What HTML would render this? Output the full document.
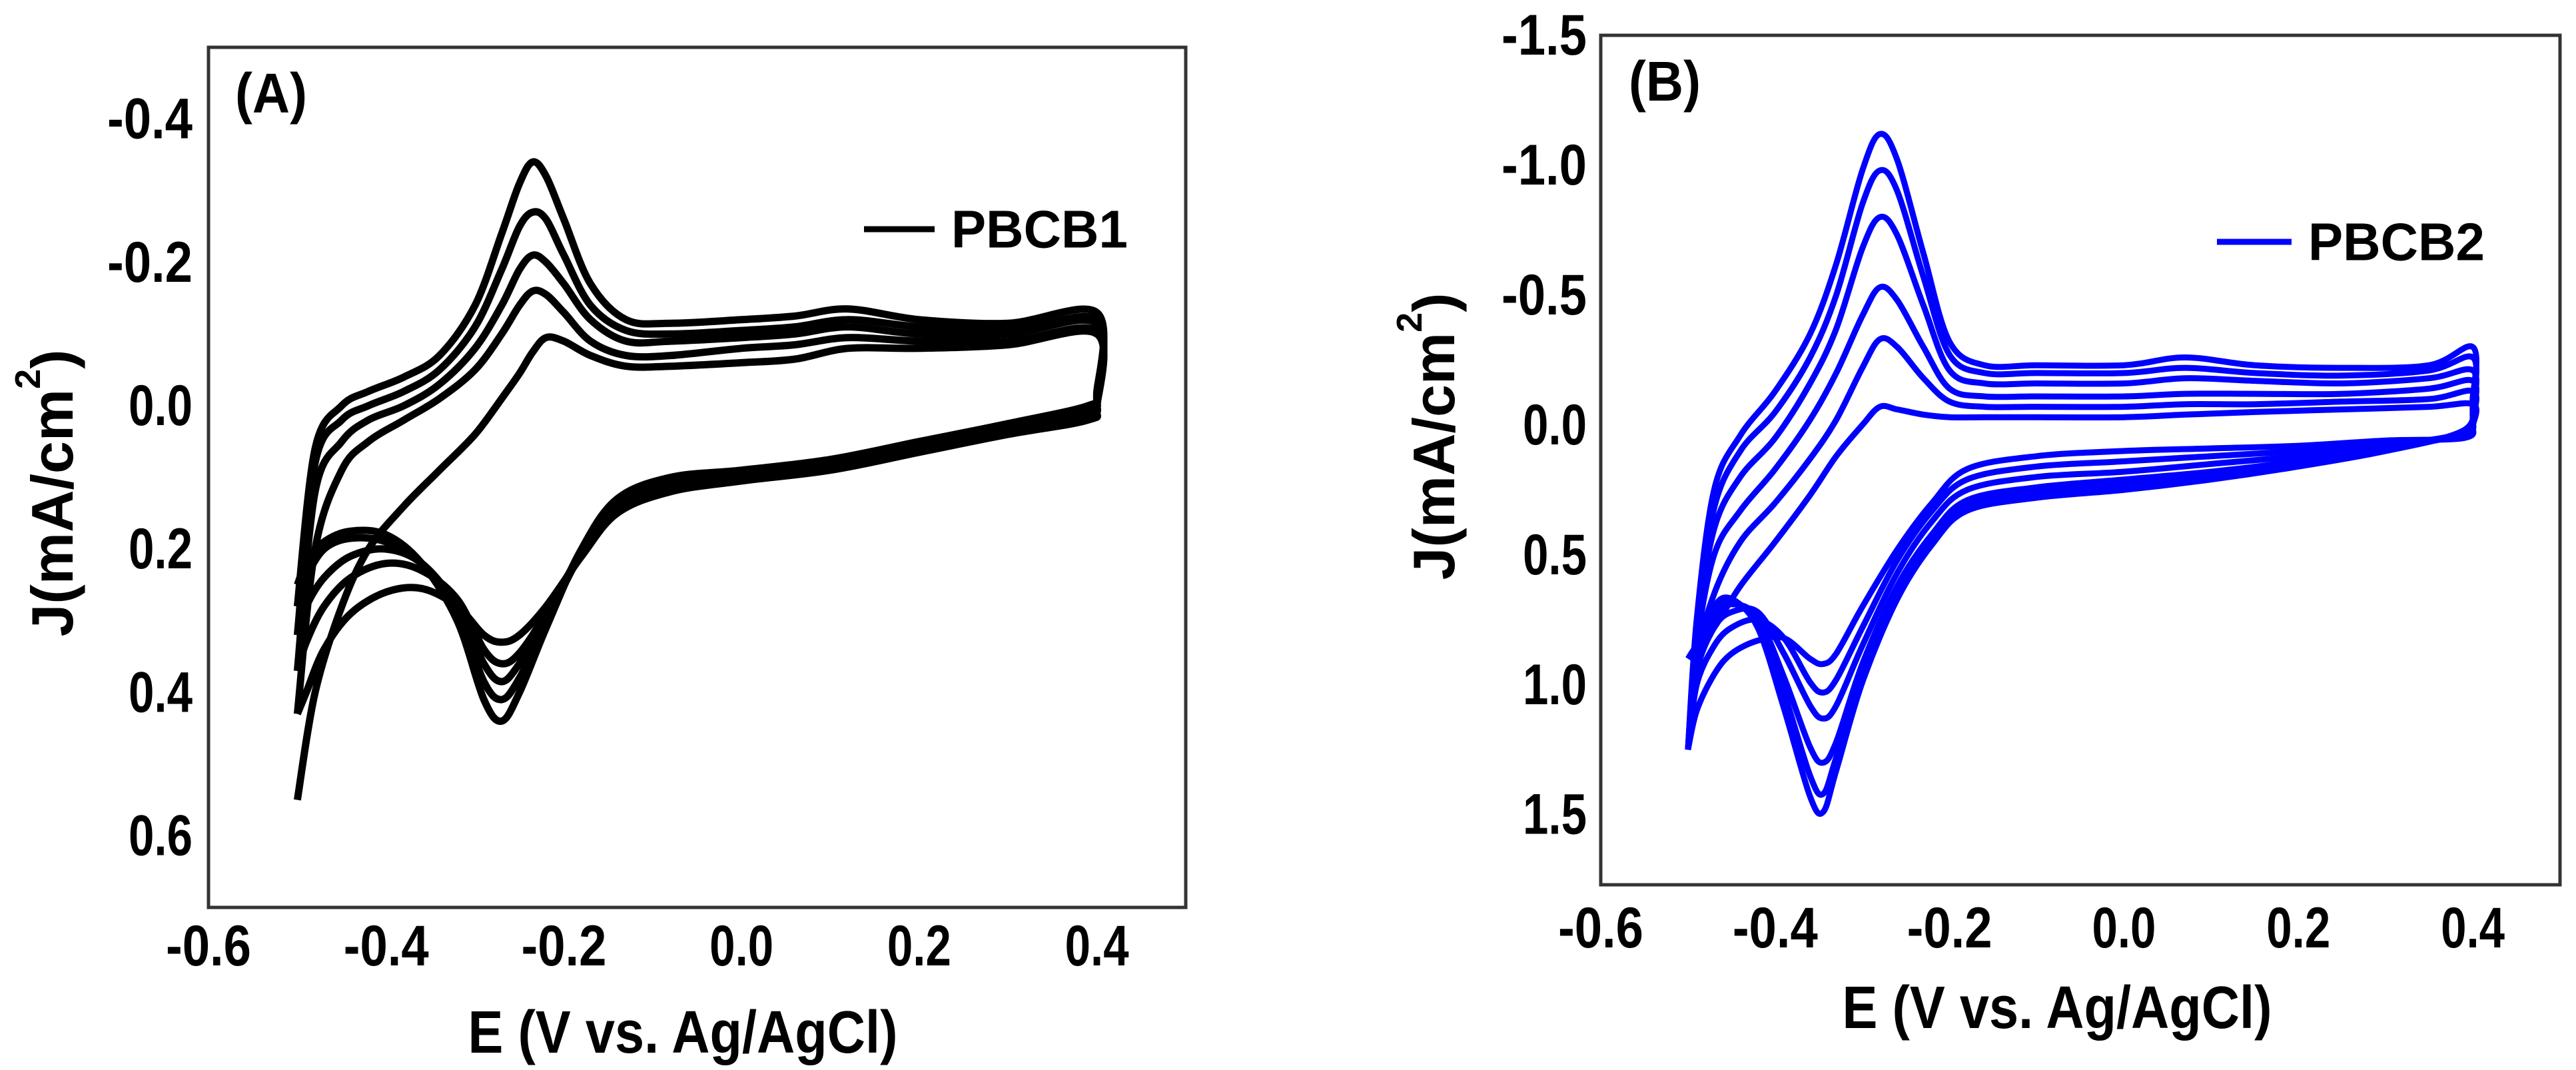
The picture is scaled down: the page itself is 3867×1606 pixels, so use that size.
<!DOCTYPE html>
<html><head><meta charset="utf-8"><style>
html,body{margin:0;padding:0;background:#fff;}
svg{display:block;}
text{font-family:"Liberation Sans",Arial,sans-serif;font-weight:bold;fill:#000;}
</style></head>
<body>
<svg id="fig" width="3867" height="1606" viewBox="0 0 3867 1606" xmlns="http://www.w3.org/2000/svg">
<rect width="3867" height="1606" fill="#fff"/>
<g id="panelA"></g>
<g id="panelB"></g>
</svg>
<script>
// ---------- Panel A data (PBCB1) ----------
const aXTicks = [-0.6, -0.4, -0.2, 0.0, 0.2, 0.4];
const aXTickLabels = ["-0.6", "-0.4", "-0.2", "0.0", "0.2", "0.4"];
const aYTicks = [-0.4, -0.2, 0.0, 0.2, 0.4, 0.6];
const aYTickLabels = ["-0.4", "-0.2", "0.0", "0.2", "0.4", "0.6"];
const aFwdE = [-0.5,-0.48,-0.45,-0.42,-0.38,-0.34,-0.30,-0.27,-0.25,-0.235,-0.22,-0.2,-0.17,-0.13,-0.08,0,0.06,0.12,0.2,0.3,0.4];
const aFwdC1 = [0.55,0.4,0.28,0.2,0.14,0.09,0.04,-0.01,-0.045,-0.075,-0.095,-0.09,-0.07,-0.055,-0.055,-0.06,-0.065,-0.08,-0.08,-0.085,-0.1];
const aFwdC2 = [0.43,0.2,0.09,0.05,0.02,-0.01,-0.05,-0.1,-0.14,-0.16,-0.155,-0.13,-0.09,-0.07,-0.07,-0.08,-0.085,-0.095,-0.09,-0.09,-0.105];
const aFwdC3 = [0.37,0.12,0.05,0.02,0.0,-0.03,-0.08,-0.14,-0.19,-0.21,-0.2,-0.17,-0.12,-0.09,-0.09,-0.095,-0.1,-0.11,-0.1,-0.1,-0.115];
const aFwdC4 = [0.32,0.08,0.02,0.0,-0.02,-0.05,-0.11,-0.19,-0.25,-0.27,-0.26,-0.21,-0.14,-0.105,-0.1,-0.105,-0.11,-0.12,-0.11,-0.105,-0.12];
const aFwdC5 = [0.28,0.06,0.0,-0.02,-0.04,-0.07,-0.14,-0.24,-0.31,-0.34,-0.32,-0.26,-0.17,-0.12,-0.115,-0.12,-0.125,-0.135,-0.12,-0.115,-0.13];
const aRevE = [0.4,0.39,0.3,0.2,0.1,0,-0.08,-0.14,-0.18,-0.22,-0.25,-0.27,-0.29,-0.32,-0.36,-0.4,-0.44,-0.47,-0.49,-0.5];
const aRevC1 = [0.0,0.02,0.04,0.065,0.09,0.105,0.12,0.15,0.21,0.28,0.32,0.33,0.32,0.28,0.255,0.26,0.29,0.34,0.4,0.43];
const aRevC2 = [-0.01,0.015,0.035,0.06,0.085,0.1,0.115,0.145,0.205,0.29,0.345,0.36,0.34,0.27,0.23,0.22,0.24,0.28,0.33,0.37];
const aRevC3 = [-0.01,0.01,0.03,0.055,0.08,0.095,0.11,0.14,0.205,0.3,0.36,0.385,0.36,0.28,0.22,0.2,0.21,0.24,0.28,0.32];
const aRevC4 = [-0.015,0.005,0.028,0.052,0.077,0.092,0.105,0.135,0.2,0.305,0.38,0.41,0.385,0.29,0.22,0.19,0.185,0.2,0.24,0.28];
const aRevC5 = [-0.02,0.0,0.025,0.05,0.075,0.09,0.1,0.13,0.2,0.31,0.4,0.44,0.41,0.3,0.22,0.18,0.175,0.19,0.22,0.25];

// ---------- Panel B data (PBCB2) ----------
const bXTicks = [-0.6, -0.4, -0.2, 0.0, 0.2, 0.4];
const bXTickLabels = ["-0.6", "-0.4", "-0.2", "0.0", "0.2", "0.4"];
const bYTicks = [-1.5, -1.0, -0.5, 0.0, 0.5, 1.0, 1.5];
const bYTickLabels = ["-1.5", "-1.0", "-0.5", "0.0", "0.5", "1.0", "1.5"];
const bFwdE = [-0.5,-0.49,-0.47,-0.44,-0.4,-0.36,-0.33,-0.3,-0.28,-0.26,-0.23,-0.2,-0.16,-0.1,0,0.07,0.15,0.25,0.35,0.4];
const bFwdC1 = [0.9,0.85,0.78,0.62,0.45,0.27,0.12,0.0,-0.07,-0.06,-0.04,-0.03,-0.03,-0.03,-0.03,-0.04,-0.05,-0.06,-0.07,-0.08];
const bFwdC2 = [1.25,0.9,0.65,0.45,0.3,0.13,-0.02,-0.22,-0.33,-0.3,-0.18,-0.09,-0.07,-0.07,-0.07,-0.08,-0.08,-0.09,-0.1,-0.13];
const bFwdC3 = [1.25,0.85,0.5,0.33,0.17,-0.02,-0.2,-0.42,-0.53,-0.48,-0.3,-0.14,-0.11,-0.11,-0.11,-0.12,-0.12,-0.12,-0.14,-0.17];
const bFwdC4 = [1.25,0.8,0.4,0.2,0.05,-0.16,-0.37,-0.68,-0.8,-0.73,-0.46,-0.21,-0.16,-0.16,-0.16,-0.18,-0.17,-0.16,-0.18,-0.21];
const bFwdC5 = [1.25,0.78,0.32,0.1,-0.05,-0.26,-0.5,-0.85,-0.98,-0.9,-0.57,-0.27,-0.2,-0.2,-0.2,-0.22,-0.2,-0.19,-0.21,-0.26];
const bFwdC6 = [1.25,0.75,0.25,0.04,-0.13,-0.35,-0.62,-0.98,-1.12,-1.02,-0.66,-0.32,-0.23,-0.23,-0.23,-0.26,-0.23,-0.22,-0.23,-0.3];
const bRevE = [0.4,0.39,0.3,0.2,0.1,0,-0.1,-0.18,-0.22,-0.26,-0.3,-0.33,-0.345,-0.36,-0.39,-0.42,-0.45,-0.47,-0.49,-0.5];
const bRevC1 = [0.0,0.05,0.06,0.08,0.09,0.1,0.12,0.17,0.3,0.48,0.7,0.88,0.92,0.9,0.82,0.83,0.88,0.96,1.1,1.25];
const bRevC2 = [-0.03,0.04,0.07,0.1,0.12,0.14,0.16,0.21,0.33,0.52,0.78,0.98,1.03,0.99,0.82,0.75,0.78,0.85,1.0,1.25];
const bRevC3 = [-0.05,0.03,0.08,0.12,0.15,0.18,0.2,0.25,0.37,0.57,0.85,1.08,1.13,1.08,0.88,0.72,0.72,0.78,0.95,1.25];
const bRevC4 = [-0.07,0.03,0.09,0.14,0.18,0.21,0.24,0.29,0.42,0.62,0.92,1.22,1.3,1.24,0.97,0.74,0.69,0.74,0.92,1.25];
const bRevC5 = [-0.09,0.02,0.1,0.15,0.2,0.23,0.26,0.31,0.44,0.65,0.96,1.28,1.42,1.35,1.03,0.76,0.68,0.72,0.9,1.25];
const bRevC6 = [-0.11,0.02,0.1,0.16,0.21,0.25,0.28,0.33,0.46,0.67,0.99,1.33,1.49,1.43,1.09,0.78,0.67,0.7,0.88,1.25];

const NS = "http://www.w3.org/2000/svg";
function mk(parent, tag, attrs, txt) {
  const el = document.createElementNS(NS, tag);
  for (const k in attrs) el.setAttribute(k, attrs[k]);
  if (txt !== undefined) el.textContent = txt;
  parent.appendChild(el);
  return el;
}
function smoothPath(pts) {
  let d = "M" + pts[0][0].toFixed(1) + "," + pts[0][1].toFixed(1);
  for (let i = 0; i < pts.length - 1; i++) {
    const p0 = pts[Math.max(0, i - 1)], p1 = pts[i], p2 = pts[i + 1], p3 = pts[Math.min(pts.length - 1, i + 2)];
    const c1x = p1[0] + (p2[0] - p0[0]) / 6, c1y = p1[1] + (p2[1] - p0[1]) / 6;
    const c2x = p2[0] - (p3[0] - p1[0]) / 6, c2y = p2[1] - (p3[1] - p1[1]) / 6;
    d += " C" + c1x.toFixed(1) + "," + c1y.toFixed(1) + " " + c2x.toFixed(1) + "," + c2y.toFixed(1) + " " + p2[0].toFixed(1) + "," + p2[1].toFixed(1);
  }
  return d;
}

function drawPanel(cfg) {
  const g = document.getElementById(cfg.id);
  const xS = v => cfg.L + (v - cfg.xMin) / (cfg.xMax - cfg.xMin) * (cfg.R - cfg.L);
  const yS = v => cfg.T + (v - cfg.yMin) / (cfg.yMax - cfg.yMin) * (cfg.B - cfg.T);

  const cg = mk(g, "g", {});
  
  
  cfg.cycles.forEach((c, i) => {
    const pts = [];
    cfg.fwdE.forEach((e, k) => pts.push([xS(e), yS(c.fwd[k])]));
    cfg.revE.forEach((e, k) => pts.push([xS(e), yS(c.rev[k])]));
    const p = mk(cg, "path", {d: smoothPath(pts), fill: "none", stroke: cfg.color, "stroke-width": cfg.sw, "stroke-linejoin": "round"});
    
    
  });

  const fr = mk(g, "rect", {x: cfg.L, y: cfg.T, width: cfg.R - cfg.L, height: cfg.B - cfg.T, fill: "none", stroke: "#333", "stroke-width": 5});
  
  

  cfg.xTicks.forEach((v, i) => {
    const lab = cfg.xLabels[i];
    const t = mk(g, "text", {x: xS(v), y: cfg.xTickY, "font-size": 86, "text-anchor": "middle", "dominant-baseline": "central", textLength: lab.length * 32, lengthAdjust: "spacingAndGlyphs"}, lab);
    
    
  });
  cfg.yTicks.forEach((v, i) => {
    const lab = cfg.yLabels[i];
    const t = mk(g, "text", {x: cfg.yTickRight, y: yS(v), "font-size": 86, "text-anchor": "end", "dominant-baseline": "central", textLength: lab.length * 32, lengthAdjust: "spacingAndGlyphs"}, lab);
    
    
  });
  const xt = mk(g, "text", {x: cfg.xTitleX, y: cfg.xTitleY, "font-size": 90, "text-anchor": "middle", "dominant-baseline": "central", textLength: 645, lengthAdjust: "spacingAndGlyphs"}, "E (V vs. Ag/AgCl)");
  
  
  const yt = mk(g, "text", {x: 0, y: 0, "font-size": 88, "text-anchor": "middle", "dominant-baseline": "central", transform: "translate(" + cfg.yTitleX + "," + cfg.yTitleY + ") rotate(-90)"});
  
  
  mk(yt, "tspan", {}, "J(mA/cm");
  mk(yt, "tspan", {"font-size": 54, dy: -36}, "2");
  mk(yt, "tspan", {dy: 36}, ")");
  const pl = mk(g, "text", {x: cfg.pLabX, y: cfg.pLabY, "font-size": 84, "dominant-baseline": "central", textLength: 108, lengthAdjust: "spacingAndGlyphs"}, cfg.pLabel);
  
  
  const lg = mk(g, "g", {});
  
  
  mk(lg, "line", {x1: cfg.legX1, x2: cfg.legX2, y1: cfg.legY, y2: cfg.legY, stroke: cfg.color, "stroke-width": 9});
  mk(lg, "text", {x: cfg.legTX, y: cfg.legY, "font-size": 80, "dominant-baseline": "central", textLength: 265, lengthAdjust: "spacingAndGlyphs"}, cfg.legText);
}

drawPanel({
  id: "panelA", L: 313, R: 1780, T: 71, B: 1362, xMin: -0.6, xMax: 0.5, yMin: -0.5, yMax: 0.7,
  color: "#000", sw: 11,
  fwdE: aFwdE, revE: aRevE,
  cycles: [{fwd: aFwdC1, rev: aRevC1}, {fwd: aFwdC2, rev: aRevC2}, {fwd: aFwdC3, rev: aRevC3}, {fwd: aFwdC4, rev: aRevC4}, {fwd: aFwdC5, rev: aRevC5}],
  xTicks: aXTicks, xLabels: aXTickLabels, yTicks: aYTicks, yLabels: aYTickLabels,
  xTickY: 1420, yTickRight: 289, xTitleX: 1025, xTitleY: 1550, yTitleX: 78, yTitleY: 740,
  pLabel: "(A)", pLabX: 353, pLabY: 140,
  legX1: 1297, legX2: 1403, legY: 344, legTX: 1428, legText: "PBCB1"
});
drawPanel({
  id: "panelB", L: 2403, R: 3843, T: 53, B: 1328, xMin: -0.6, xMax: 0.5, yMin: -1.5, yMax: 1.77,
  color: "#0000ff", sw: 9,
  fwdE: bFwdE, revE: bRevE,
  cycles: [{fwd: bFwdC1, rev: bRevC1}, {fwd: bFwdC2, rev: bRevC2}, {fwd: bFwdC3, rev: bRevC3}, {fwd: bFwdC4, rev: bRevC4}, {fwd: bFwdC5, rev: bRevC5}, {fwd: bFwdC6, rev: bRevC6}],
  xTicks: bXTicks, xLabels: bXTickLabels, yTicks: bYTicks, yLabels: bYTickLabels,
  xTickY: 1393, yTickRight: 2382, xTitleX: 3088, xTitleY: 1513, yTitleX: 2152, yTitleY: 655,
  pLabel: "(B)", pLabX: 2445, pLabY: 122,
  legX1: 3328, legX2: 3440, legY: 363, legTX: 3465, legText: "PBCB2"
});
</script>
</body></html>
